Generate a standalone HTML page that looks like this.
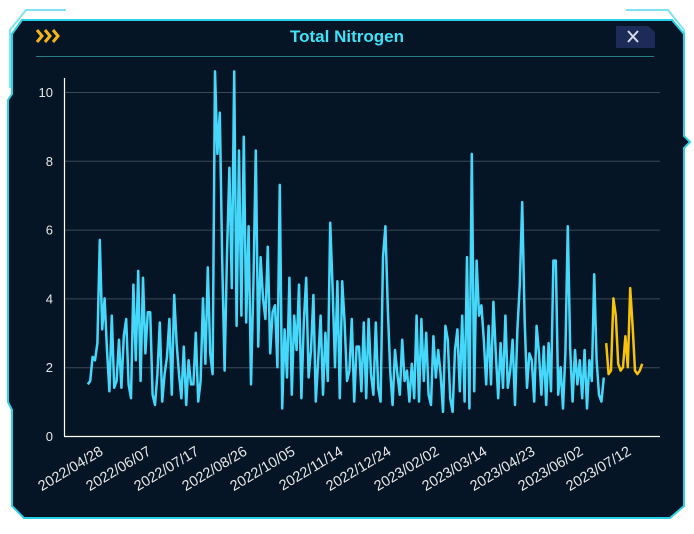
<!DOCTYPE html>
<html><head><meta charset="utf-8"><style>
body{margin:0;background:#fff;width:694px;height:534px;overflow:hidden;font-family:"Liberation Sans",sans-serif}
svg{position:absolute;left:0;top:0}
</style></head><body>
<svg id="c" width="694" height="534">
<g>
<polyline points="66,10 26,10 10,30 10,88" fill="none" stroke="#7fe3f0" stroke-width="2"/>
<polyline points="626,10 668,10 684,30 684,88" fill="none" stroke="#7fe3f0" stroke-width="2"/>
<polygon points="22,20 672,20 684,34 684,136 690,142 684,148 684,506 670,518 24,518 12,506 12,410 8,402 8,100 12,94 12,34" fill="#061525" stroke="#2ad0e8" stroke-width="2"/>
</g>
<g fill="none" stroke="#f5b51a" stroke-width="3">
<polyline points="37,30 42,36 37,42"/><polyline points="45,30 50,36 45,42"/><polyline points="53,30 58,36 53,42"/>
</g>
<text x="347" y="42" text-anchor="middle" fill="#3fe2f7" font-size="17" font-weight="bold">Total Nitrogen</text>
<line x1="36" y1="56.5" x2="654" y2="56.5" stroke="#2a7f86" stroke-width="1"/>
<g>
<polygon points="616,26 648,26 655,32 655,48 616,48" fill="#1d2b58"/>
<path d="M628,31 L638,42 M638,31 L628,42" stroke="#d8dce8" stroke-width="2"/>
</g>
<g id="grid"></g><g id="axes"></g><g id="series"></g>
</svg>
<script>
const startDate = new Date(2022,3,12);
const stepDays = 2;
const blueValues = [
1.5,1.6,2.3,2.2,2.7,5.7,3.1,4.0,2.5,1.3,
3.5,1.4,1.6,2.8,1.4,2.9,3.4,1.5,1.1,4.4,
2.2,4.8,1.6,4.6,2.4,3.6,3.6,1.2,0.9,1.8,
3.3,1.0,1.8,2.3,3.4,1.2,4.1,2.7,1.8,1.1,
2.6,0.9,2.2,1.5,1.5,3.0,1.0,1.6,4.0,2.1,
4.9,2.4,1.8,10.6,8.2,9.4,5.1,1.9,5.3,7.8,
4.3,10.6,3.2,8.3,3.5,8.7,3.3,6.1,1.5,4.4,
8.3,2.6,5.2,4.0,3.4,5.5,2.4,3.6,3.8,2.0,
7.3,0.8,3.1,1.7,4.6,1.2,3.5,2.5,4.4,1.1,
3.3,4.6,1.7,2.5,4.1,1.0,2.2,3.5,1.2,3.0,
1.6,6.2,4.3,2.0,4.5,1.1,4.5,3.3,1.6,1.9,
3.4,1.0,2.6,2.6,1.3,3.3,1.1,3.4,1.8,1.2,
3.3,1.4,1.0,5.2,6.1,3.7,1.9,0.9,2.5,1.8,
1.2,2.8,1.6,1.9,1.0,2.1,1.1,3.5,1.0,3.4,
1.6,3.0,1.2,0.9,2.9,1.7,2.5,1.8,0.7,3.2,
2.8,1.1,0.7,2.5,3.1,1.3,3.5,1.0,5.2,0.8,
8.2,1.3,5.1,3.5,3.8,2.8,1.5,3.2,1.5,3.9,
2.4,1.1,2.7,1.4,3.5,1.4,1.9,2.8,0.9,3.1,
4.4,6.8,3.4,1.4,2.4,2.2,1.0,3.2,2.4,1.2,
2.6,0.9,2.7,1.3,5.1,5.1,1.2,2.0,0.8,2.4,
6.1,2.5,1.0,2.5,1.5,2.2,1.1,2.5,0.8,2.2,
1.6,4.7,2.2,1.2,1.0,1.7];
const yellowValues = [2.7,1.8,1.9,4.0,3.5,2.1,1.9,2.0,2.9,2.0,4.3,3.2,1.9,1.8,1.9,2.1];
const yTicks = [0,2,4,6,8,10];
const xTickLabels = ["2022/04/28","2022/06/07","2022/07/17","2022/08/26","2022/10/05","2022/11/14","2022/12/24","2023/02/02","2023/03/14","2023/04/23","2023/06/02","2023/07/12"];

const NS="http://www.w3.org/2000/svg";
const X0=64,X1=660,Y0=436,Y10=92;
const refDay=new Date(2022,3,28);
function dayOf(d){return Math.round((d-startDate)/86400000);}
function xOfDay(day){const refIdx=dayOf(refDay);return 107+(day-refIdx)*1.2;}
function yOf(v){return Y0-(v/10)*(Y0-Y10);}
function mk(tag,attrs,parent){const e=document.createElementNS(NS,tag);for(const k in attrs)e.setAttribute(k,attrs[k]);parent.appendChild(e);return e;}
const grid=document.getElementById('grid'),axes=document.getElementById('axes'),series=document.getElementById('series');
yTicks.forEach(t=>{
  if(t>0){const g=mk('line',{x1:X0,x2:X1,y1:yOf(t)+0.5,y2:yOf(t)+0.5,stroke:'#3a4a55','stroke-width':1},grid);
  
  }
  const l=mk('text',{x:53,y:yOf(t)+5,'text-anchor':'end',fill:'#e6e6e6','font-size':13},axes);
  l.textContent=t;
  
  
});
const ya=mk('line',{x1:X0+0.5,x2:X0+0.5,y1:78,y2:Y0,stroke:'#fff','stroke-width':1.2},axes);


const xa=mk('line',{x1:X0,x2:X1,y1:Y0+0.5,y2:Y0+0.5,stroke:'#fff','stroke-width':1.2},axes);


xTickLabels.forEach(s=>{
  const p=s.split('/');const d=new Date(+p[0],+p[1]-1,+p[2]);
  const x=xOfDay(dayOf(d))-3;
  const t=mk('text',{x:x,y:454,'text-anchor':'end',fill:'#e6e6e6','font-size':14.5,transform:'rotate(-31 '+x+' 454)'},axes);
  t.textContent=s;
  
  
});
function pts(vals,offset){return vals.map((v,i)=>xOfDay((i+offset)*stepDays).toFixed(1)+','+yOf(v).toFixed(1)).join(' ');}
const b=mk('polyline',{points:pts(blueValues,0),fill:'none',stroke:'#45d8fb','stroke-width':2.5,'stroke-linejoin':'round'},series);


const y=mk('polyline',{points:pts(yellowValues,blueValues.length),fill:'none',stroke:'#f7c20c','stroke-width':2.5,'stroke-linejoin':'round'},series);


</script>
</body></html>
